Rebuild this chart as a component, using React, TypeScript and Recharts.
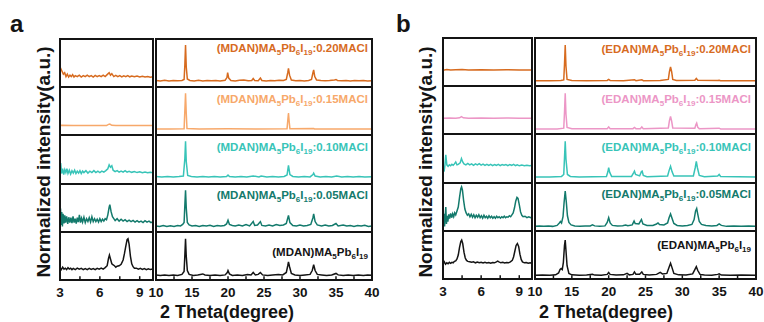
import { Line, LineChart, XAxis, YAxis } from 'recharts';

type Pt = [number, number];

// ---- panel a, (MDAN) series ----
const aLo020: Pt[] = [[3,0.3],[3.05,0.39],[3.15,0.33],[3.25,0.27],[3.35,0.3],[3.45,0.22],[3.55,0.27],[3.65,0.21],[3.75,0.25],[3.85,0.22],[3.95,0.26],[4.05,0.21],[4.15,0.24],[4.3,0.22],[4.45,0.25],[4.6,0.21],[4.75,0.24],[4.9,0.22],[5.05,0.25],[5.2,0.22],[5.35,0.24],[5.5,0.21],[5.65,0.245],[5.8,0.22],[5.95,0.24],[6.1,0.22],[6.25,0.25],[6.4,0.22],[6.55,0.26],[6.7,0.3],[6.8,0.25],[6.9,0.28],[7.05,0.22],[7.2,0.245],[7.35,0.22],[7.5,0.24],[7.65,0.215],[7.8,0.235],[7.95,0.22],[8.1,0.24],[8.25,0.215],[8.4,0.23],[8.6,0.215],[8.8,0.23],[9,0.21],[9.2,0.225],[9.4,0.21],[9.6,0.22],[9.8,0.205],[10,0.215]];
const aLo015: Pt[] = [[3,0.2],[3.1,0.205],[4,0.2],[5,0.2],[6,0.2],[6.5,0.2],[6.65,0.225],[6.75,0.23],[6.9,0.205],[7.2,0.2],[8,0.2],[9,0.2],[10,0.2]];
const aLo010: Pt[] = [[3,0.28],[3.05,0.42],[3.12,0.2],[3.2,0.3],[3.28,0.18],[3.36,0.28],[3.44,0.22],[3.52,0.3],[3.6,0.2],[3.7,0.27],[3.8,0.19],[3.9,0.26],[4,0.21],[4.1,0.27],[4.2,0.2],[4.3,0.25],[4.4,0.21],[4.5,0.26],[4.6,0.2],[4.7,0.25],[4.8,0.22],[4.95,0.26],[5.1,0.21],[5.25,0.25],[5.4,0.22],[5.55,0.26],[5.7,0.22],[5.85,0.25],[6,0.22],[6.15,0.25],[6.3,0.23],[6.45,0.26],[6.6,0.3],[6.7,0.38],[6.8,0.33],[6.9,0.36],[7,0.27],[7.15,0.24],[7.3,0.26],[7.45,0.23],[7.6,0.25],[7.75,0.23],[7.9,0.26],[8.05,0.23],[8.2,0.245],[8.4,0.225],[8.6,0.24],[8.8,0.22],[9,0.235],[9.2,0.215],[9.4,0.23],[9.6,0.215],[9.8,0.225],[10,0.215]];
const aLo005: Pt[] = [[3,0.3],[3.04,0.49],[3.08,0.15],[3.13,0.42],[3.18,0.12],[3.23,0.38],[3.3,0.18],[3.36,0.35],[3.42,0.2],[3.5,0.33],[3.58,0.17],[3.66,0.31],[3.74,0.2],[3.82,0.3],[3.9,0.19],[3.98,0.33],[4.06,0.2],[4.14,0.28],[4.22,0.18],[4.3,0.3],[4.38,0.21],[4.46,0.36],[4.54,0.2],[4.62,0.29],[4.7,0.21],[4.8,0.31],[4.9,0.2],[5,0.28],[5.1,0.22],[5.2,0.3],[5.3,0.21],[5.4,0.32],[5.5,0.22],[5.6,0.28],[5.7,0.22],[5.8,0.27],[5.9,0.21],[6,0.28],[6.1,0.22],[6.2,0.27],[6.3,0.23],[6.4,0.28],[6.5,0.26],[6.6,0.36],[6.7,0.52],[6.75,0.57],[6.85,0.42],[6.95,0.32],[7.05,0.28],[7.15,0.24],[7.3,0.28],[7.45,0.23],[7.6,0.27],[7.75,0.23],[7.9,0.26],[8.05,0.22],[8.2,0.25],[8.35,0.22],[8.5,0.245],[8.65,0.21],[8.8,0.24],[8.95,0.21],[9.1,0.23],[9.25,0.2],[9.4,0.24],[9.55,0.21],[9.7,0.23],[9.85,0.2],[10,0.22]];
const aLoRef: Pt[] = [[3,0.26],[3.1,0.22],[3.2,0.27],[3.3,0.23],[3.4,0.25],[3.5,0.22],[3.6,0.26],[3.7,0.23],[3.8,0.25],[3.9,0.22],[4,0.245],[4.15,0.22],[4.3,0.25],[4.45,0.23],[4.6,0.245],[4.75,0.22],[4.9,0.24],[5.05,0.22],[5.2,0.245],[5.35,0.225],[5.5,0.24],[5.65,0.22],[5.8,0.245],[5.95,0.23],[6.1,0.25],[6.25,0.23],[6.4,0.26],[6.55,0.3],[6.65,0.45],[6.72,0.52],[6.8,0.44],[6.9,0.34],[7,0.32],[7.1,0.3],[7.2,0.27],[7.3,0.29],[7.45,0.3],[7.6,0.33],[7.75,0.42],[7.85,0.55],[7.95,0.7],[8.05,0.84],[8.12,0.86],[8.2,0.75],[8.3,0.5],[8.4,0.34],[8.5,0.28],[8.6,0.25],[8.75,0.25],[8.9,0.23],[9.05,0.245],[9.2,0.225],[9.35,0.24],[9.5,0.22],[9.65,0.235],[9.8,0.22],[10,0.23]];

const aHi020: Pt[] = [[10,0.14],[10.6,0.13],[11.2,0.145],[11.8,0.13],[12.4,0.14],[13,0.135],[13.6,0.14],[13.9,0.16],[14,0.45],[14.1,0.875],[14.2,0.42],[14.35,0.17],[14.7,0.14],[15.3,0.13],[15.9,0.145],[16.5,0.13],[17.1,0.14],[17.7,0.135],[18.3,0.14],[18.9,0.13],[19.6,0.145],[19.85,0.2],[19.95,0.3],[20.1,0.19],[20.4,0.14],[21,0.13],[21.6,0.145],[22.2,0.15],[22.8,0.135],[23.3,0.14],[23.5,0.18],[23.7,0.14],[24.2,0.135],[24.5,0.19],[24.7,0.14],[25.3,0.13],[25.9,0.14],[26.5,0.135],[27.1,0.145],[27.7,0.14],[28.1,0.16],[28.3,0.3],[28.4,0.39],[28.55,0.25],[28.8,0.15],[29.4,0.135],[30,0.14],[30.6,0.13],[31.2,0.14],[31.6,0.16],[31.8,0.3],[31.9,0.36],[32.05,0.22],[32.3,0.15],[32.9,0.14],[33.5,0.135],[34.1,0.14],[34.8,0.15],[35,0.16],[35.2,0.14],[35.8,0.135],[36.4,0.14],[37,0.13],[37.6,0.14],[38.2,0.135],[38.8,0.14],[39.4,0.13],[40,0.135]];
const aHi015: Pt[] = [[10,0.13],[12,0.13],[13.9,0.135],[14,0.5],[14.1,0.87],[14.2,0.45],[14.3,0.14],[16,0.13],[20,0.135],[24,0.13],[28.2,0.135],[28.3,0.3],[28.4,0.46],[28.5,0.28],[28.6,0.135],[31.9,0.14],[32,0.13],[40,0.13]];
const aHi010: Pt[] = [[10,0.14],[10.8,0.13],[11.6,0.14],[12.4,0.13],[13.2,0.14],[13.8,0.15],[14,0.5],[14.1,0.87],[14.2,0.45],[14.4,0.16],[14.9,0.14],[15.7,0.13],[16.5,0.14],[17.3,0.13],[18.1,0.14],[18.9,0.13],[19.8,0.14],[20,0.17],[20.2,0.14],[21,0.13],[21.8,0.14],[22.6,0.13],[23.5,0.15],[24.3,0.13],[24.6,0.15],[25.4,0.13],[26.2,0.14],[27,0.13],[27.8,0.14],[28.2,0.17],[28.4,0.37],[28.6,0.18],[29,0.14],[29.8,0.13],[30.6,0.14],[31.4,0.13],[31.8,0.18],[31.9,0.21],[32.1,0.15],[32.8,0.13],[33.6,0.14],[34.4,0.13],[35.1,0.15],[35.8,0.13],[36.6,0.14],[37.4,0.13],[38.2,0.14],[39,0.13],[40,0.135]];
const aHi005: Pt[] = [[10,0.13],[10.5,0.12],[11,0.14],[11.5,0.12],[12,0.135],[12.5,0.12],[13,0.14],[13.4,0.13],[13.7,0.16],[13.9,0.2],[14,0.55],[14.1,0.87],[14.2,0.5],[14.35,0.2],[14.6,0.15],[15,0.13],[15.5,0.14],[16,0.12],[16.5,0.14],[17,0.13],[17.5,0.145],[18,0.12],[18.5,0.14],[19,0.13],[19.5,0.14],[19.8,0.17],[20,0.25],[20.2,0.16],[20.6,0.14],[21,0.13],[21.5,0.15],[22,0.13],[22.5,0.16],[23,0.13],[23.5,0.22],[23.7,0.14],[24.1,0.15],[24.5,0.22],[24.7,0.14],[25.2,0.13],[25.7,0.15],[26.2,0.13],[26.7,0.16],[27.2,0.14],[27.7,0.15],[28.1,0.18],[28.4,0.35],[28.6,0.2],[29,0.14],[29.5,0.13],[30,0.15],[30.5,0.13],[31,0.14],[31.5,0.16],[31.8,0.3],[31.9,0.38],[32.1,0.22],[32.4,0.15],[33,0.13],[33.5,0.15],[34,0.13],[34.5,0.14],[35,0.18],[35.3,0.13],[36,0.15],[36.5,0.13],[37,0.14],[37.5,0.12],[38,0.14],[38.5,0.13],[39,0.145],[39.5,0.12],[40,0.13]];
const aHiRef: Pt[] = [[10,0.11],[10.6,0.1],[11.2,0.11],[11.8,0.1],[12.4,0.11],[13,0.1],[13.6,0.12],[13.9,0.18],[14,0.5],[14.1,0.86],[14.2,0.5],[14.35,0.2],[14.6,0.12],[15.2,0.1],[15.8,0.11],[16.5,0.13],[16.8,0.11],[17.5,0.1],[18.2,0.11],[18.9,0.1],[19.6,0.11],[19.9,0.16],[20,0.2],[20.2,0.13],[20.6,0.1],[21.3,0.11],[22,0.1],[22.7,0.12],[23.2,0.11],[23.5,0.16],[23.8,0.11],[24.2,0.12],[24.5,0.16],[24.8,0.11],[25.5,0.1],[26.2,0.11],[27,0.12],[27.6,0.11],[28.1,0.16],[28.3,0.3],[28.4,0.38],[28.55,0.28],[28.8,0.14],[29.3,0.11],[30,0.1],[30.7,0.11],[31.4,0.12],[31.7,0.2],[31.9,0.32],[32.1,0.2],[32.4,0.12],[33,0.11],[33.7,0.1],[34.4,0.11],[35,0.14],[35.3,0.11],[36,0.1],[36.7,0.11],[37.4,0.1],[38.1,0.11],[38.8,0.1],[39.4,0.11],[40,0.1]];

// ---- panel b, (EDAN) series ----
const bLo020: Pt[] = [[3,0.33],[3.3,0.345],[3.6,0.335],[4,0.34],[4.5,0.345],[5,0.335],[6,0.34],[7,0.335],[8,0.34],[9,0.335],[10,0.335]];
const bLo015: Pt[] = [[3,0.33],[3.5,0.335],[4,0.33],[4.3,0.34],[4.45,0.365],[4.6,0.34],[5,0.33],[6,0.335],[7,0.33],[8,0.335],[9,0.33],[10,0.33]];
const bLo010: Pt[] = [[3,0.28],[3.08,0.22],[3.15,0.35],[3.22,0.57],[3.3,0.36],[3.4,0.33],[3.5,0.36],[3.6,0.34],[3.7,0.37],[3.8,0.35],[3.9,0.38],[4,0.42],[4.1,0.36],[4.2,0.37],[4.35,0.4],[4.45,0.49],[4.55,0.42],[4.65,0.38],[4.8,0.36],[4.95,0.39],[5.1,0.36],[5.25,0.38],[5.4,0.35],[5.55,0.38],[5.7,0.36],[5.85,0.385],[6,0.355],[6.15,0.375],[6.3,0.35],[6.45,0.37],[6.6,0.35],[6.75,0.37],[6.9,0.345],[7.05,0.365],[7.2,0.35],[7.35,0.37],[7.5,0.345],[7.65,0.365],[7.8,0.35],[7.95,0.365],[8.1,0.345],[8.25,0.365],[8.4,0.35],[8.55,0.37],[8.7,0.345],[8.85,0.36],[9,0.34],[9.2,0.355],[9.4,0.34],[9.6,0.35],[9.8,0.34],[10,0.345]];
const bLo005: Pt[] = [[3,0.42],[3.04,0.2],[3.08,0.36],[3.12,0.1],[3.17,0.3],[3.22,0.5],[3.27,0.15],[3.32,0.32],[3.38,0.2],[3.45,0.35],[3.52,0.26],[3.6,0.37],[3.68,0.28],[3.76,0.36],[3.84,0.3],[3.92,0.38],[4,0.34],[4.1,0.42],[4.2,0.5],[4.3,0.7],[4.4,0.88],[4.46,0.92],[4.53,0.85],[4.62,0.64],[4.72,0.46],[4.82,0.38],[4.92,0.33],[5.02,0.36],[5.12,0.3],[5.22,0.35],[5.32,0.29],[5.42,0.34],[5.52,0.28],[5.62,0.33],[5.72,0.29],[5.82,0.34],[5.92,0.28],[6.02,0.32],[6.12,0.27],[6.22,0.33],[6.32,0.28],[6.42,0.31],[6.52,0.27],[6.62,0.32],[6.72,0.28],[6.82,0.31],[6.92,0.27],[7.02,0.3],[7.12,0.27],[7.22,0.31],[7.32,0.28],[7.42,0.3],[7.52,0.27],[7.62,0.3],[7.72,0.28],[7.82,0.31],[7.92,0.28],[8.02,0.3],[8.12,0.29],[8.22,0.32],[8.32,0.3],[8.42,0.34],[8.52,0.38],[8.62,0.48],[8.72,0.62],[8.82,0.7],[8.9,0.68],[9,0.55],[9.1,0.4],[9.2,0.33],[9.3,0.3],[9.45,0.31],[9.6,0.28],[9.75,0.3],[9.9,0.28],[10,0.29]];
const bLoRef: Pt[] = [[3,0.32],[3.1,0.36],[3.2,0.31],[3.3,0.34],[3.4,0.32],[3.5,0.35],[3.6,0.33],[3.7,0.35],[3.8,0.34],[3.9,0.37],[4,0.38],[4.1,0.42],[4.2,0.5],[4.3,0.66],[4.4,0.78],[4.47,0.81],[4.55,0.74],[4.65,0.56],[4.75,0.44],[4.85,0.39],[4.95,0.37],[5.1,0.36],[5.25,0.35],[5.4,0.36],[5.55,0.34],[5.7,0.355],[5.85,0.34],[6,0.35],[6.15,0.335],[6.3,0.35],[6.45,0.335],[6.6,0.345],[6.75,0.33],[6.9,0.345],[7.05,0.34],[7.2,0.36],[7.3,0.375],[7.4,0.36],[7.55,0.34],[7.7,0.35],[7.85,0.335],[8,0.345],[8.15,0.34],[8.3,0.36],[8.45,0.39],[8.55,0.46],[8.65,0.58],[8.75,0.7],[8.85,0.74],[8.95,0.68],[9.05,0.52],[9.15,0.41],[9.25,0.36],[9.4,0.34],[9.55,0.345],[9.7,0.33],[9.85,0.34],[10,0.33]];

const bHi020: Pt[] = [[10,0.115],[12,0.115],[13.5,0.12],[13.9,0.13],[14,0.45],[14.1,0.855],[14.2,0.42],[14.35,0.14],[15,0.12],[17,0.115],[19.8,0.12],[20,0.14],[20.2,0.12],[22,0.115],[23.5,0.135],[23.7,0.115],[24.5,0.135],[24.7,0.115],[27,0.12],[28.1,0.14],[28.25,0.3],[28.4,0.4],[28.55,0.3],[28.7,0.14],[29.2,0.12],[31.7,0.125],[31.9,0.16],[32.1,0.125],[34.8,0.12],[35,0.125],[35.2,0.115],[40,0.115]];
const bHi015: Pt[] = [[10,0.11],[13,0.11],[13.9,0.125],[14,0.45],[14.1,0.85],[14.2,0.42],[14.35,0.14],[15,0.115],[19.8,0.115],[20,0.15],[20.2,0.115],[23.3,0.115],[23.5,0.14],[23.7,0.115],[24.3,0.115],[24.5,0.15],[24.7,0.115],[28.1,0.13],[28.25,0.28],[28.4,0.37],[28.55,0.27],[28.7,0.13],[31.7,0.125],[31.85,0.2],[31.95,0.23],[32.1,0.14],[32.3,0.115],[35,0.125],[35.2,0.11],[40,0.11]];
const bHi010: Pt[] = [[10,0.11],[12,0.11],[13.6,0.12],[13.9,0.16],[14,0.5],[14.1,0.85],[14.2,0.48],[14.4,0.16],[14.8,0.12],[16,0.11],[19.7,0.12],[19.9,0.22],[20,0.3],[20.15,0.2],[20.4,0.12],[23.1,0.12],[23.4,0.2],[23.5,0.23],[23.65,0.16],[24.2,0.13],[24.45,0.22],[24.55,0.23],[24.7,0.14],[25.2,0.115],[28,0.13],[28.2,0.24],[28.4,0.33],[28.6,0.22],[28.85,0.13],[31.5,0.13],[31.75,0.3],[31.9,0.43],[32.05,0.3],[32.3,0.14],[33,0.115],[34.8,0.13],[35,0.16],[35.2,0.12],[40,0.11]];
const bHi005: Pt[] = [[10,0.1],[10.6,0.11],[11.2,0.1],[11.8,0.11],[12.4,0.1],[13,0.12],[13.3,0.17],[13.45,0.2],[13.6,0.17],[13.8,0.3],[13.95,0.6],[14.1,0.83],[14.25,0.6],[14.4,0.32],[14.6,0.18],[14.9,0.13],[15.4,0.11],[16.1,0.1],[16.8,0.11],[17.5,0.11],[17.8,0.13],[18.1,0.11],[18.8,0.1],[19.5,0.11],[19.8,0.18],[20,0.28],[20.2,0.17],[20.5,0.12],[21.2,0.11],[21.9,0.115],[22.3,0.13],[22.6,0.115],[23.2,0.13],[23.45,0.21],[23.6,0.16],[24.1,0.15],[24.45,0.24],[24.65,0.15],[25.2,0.12],[26,0.12],[26.5,0.15],[26.7,0.17],[26.9,0.14],[27.5,0.13],[28,0.17],[28.2,0.28],[28.4,0.36],[28.6,0.27],[28.85,0.16],[29.3,0.12],[30,0.11],[30.7,0.12],[31.3,0.14],[31.6,0.24],[31.8,0.42],[31.95,0.47],[32.1,0.35],[32.3,0.2],[32.6,0.14],[33.2,0.12],[34,0.11],[34.7,0.12],[35,0.15],[35.3,0.12],[36,0.1],[37,0.11],[38,0.1],[39,0.11],[40,0.1]];
const bHiRef: Pt[] = [[10,0.08],[11,0.085],[12,0.08],[12.8,0.09],[13.2,0.13],[13.4,0.2],[13.55,0.22],[13.7,0.2],[13.85,0.35],[14,0.7],[14.1,0.81],[14.2,0.6],[14.35,0.28],[14.6,0.12],[15,0.09],[16,0.08],[17,0.085],[17.8,0.1],[18.1,0.085],[19,0.08],[19.8,0.1],[20,0.14],[20.2,0.1],[21,0.085],[22,0.09],[22.5,0.12],[22.8,0.09],[23.3,0.1],[23.5,0.15],[23.7,0.1],[24.2,0.1],[24.5,0.15],[24.7,0.1],[25.5,0.085],[26.5,0.1],[27,0.14],[27.3,0.11],[27.9,0.12],[28.2,0.25],[28.4,0.33],[28.6,0.24],[28.85,0.12],[29.5,0.09],[30.5,0.085],[31.4,0.11],[31.7,0.2],[31.9,0.26],[32.1,0.18],[32.4,0.1],[33,0.085],[34,0.08],[34.8,0.1],[35,0.11],[35.3,0.085],[36.5,0.08],[38,0.085],[40,0.08]];

const lowTicks = [3, 4.5, 6, 7.5, 9];
const highTicks = [10, 12.5, 15, 17.5, 20, 22.5, 25, 27.5, 30, 32.5, 35, 37.5, 40];
const lowDomain: [number, number] = [3, 10];
const highDomain: [number, number] = [10, 40];

const ratioLabels = [':0.20MACl', ':0.15MACl', ':0.10MACl', ':0.05MACl', ''];
const aColors = ['#d76b1f', '#f7a86a', '#38c4b8', '#137a6c', '#141414'];
const bColors = ['#d76b1f', '#ec96c6', '#38c4b8', '#137a6c', '#141414'];

const FONT = '"Liberation Sans", Arial, sans-serif';
const INK = '#141414';
const PAD = 14;
const AXIS_H = 32;

const panels = [
  {
    letter: 'a', letterX: 10, prefix: '(MDAN)', colors: aColors,
    low: [aLo020, aLo015, aLo010, aLo005, aLoRef],
    high: [aHi020, aHi015, aHi010, aHi005, aHiRef],
    lowX: 60, lowW: 93, highX: 156, highW: 216, top: 39, bottom: 280,
    yLabelX: 44, titleX: 227, labelPad: 4, labelOffsets: [2.3, 4.3, 4.6, 4.7, 13],
  },
  {
    letter: 'b', letterX: 396, prefix: '(EDAN)', colors: bColors,
    low: [bLo020, bLo015, bLo010, bLo005, bLoRef],
    high: [bHi020, bHi015, bHi010, bHi005, bHiRef],
    lowX: 443, lowW: 89, highX: 535, highW: 221, top: 38, bottom: 279,
    yLabelX: 426, titleX: 606, labelPad: 5, labelOffsets: [4.3, 5.3, 6, 4, 7.5],
  },
];

function Trace({ points, domain, ticks, left, top, width, height, color, withAxis, major }: any) {
  const data = points.map(([t, v]: Pt) => ({ t, v }));
  return (
    <div style={{ position: 'absolute', left: left - PAD, top }}>
      <LineChart
        width={width + 2 * PAD}
        height={height + (withAxis ? AXIS_H : 0)}
        data={data}
        margin={{ top: 0, right: PAD, bottom: 0, left: PAD }}
      >
        <XAxis
          dataKey="t"
          type="number"
          domain={domain}
          ticks={ticks}
          interval={0}
          allowDataOverflow
          hide={!withAxis}
          height={AXIS_H}
          axisLine={false}
          tickSize={-4}
          tickMargin={11}
          tickLine={{ stroke: INK, strokeWidth: 1.5 }}
          tick={{ fontSize: 13.5, fontWeight: 700, fill: INK, fontFamily: FONT }}
          tickFormatter={(v: number) => (v % major === 0 ? String(v) : '')}
        />
        <YAxis type="number" domain={[0, 1]} hide />
        <Line type="linear" dataKey="v" stroke={color} strokeWidth={1.5} dot={false} isAnimationActive={false} />
      </LineChart>
    </div>
  );
}

const subStyle = { fontSize: 8, verticalAlign: -3 };

function Frame({ x, w, top, bottom }: any) {
  const rowH = (bottom - top) / 5;
  return (
    <>
      <div style={{ position: 'absolute', left: x - 1, top: top - 1, width: w + 2, height: bottom - top + 2, border: `2px solid ${INK}`, boxSizing: 'border-box' }} />
      {[1, 2, 3, 4].map((i) => (
        <div key={i} style={{ position: 'absolute', left: x, top: top + i * rowH - 1, width: w, height: 2, background: INK }} />
      ))}
    </>
  );
}

function Panel({ p }: any) {
  const rowH = (p.bottom - p.top) / 5;
  return (
    <>
      {p.low.map((pts: Pt[], i: number) => (
        <Trace key={'l' + i} points={pts} domain={lowDomain} ticks={lowTicks} major={3}
          left={p.lowX} top={p.top + i * rowH} width={p.lowW} height={rowH} color={p.colors[i]} withAxis={i === 4} />
      ))}
      {p.high.map((pts: Pt[], i: number) => (
        <Trace key={'h' + i} points={pts} domain={highDomain} ticks={highTicks} major={5}
          left={p.highX} top={p.top + i * rowH} width={p.highW} height={rowH} color={p.colors[i]} withAxis={i === 4} />
      ))}
      <Frame x={p.lowX} w={p.lowW} top={p.top} bottom={p.bottom} />
      <Frame x={p.highX} w={p.highW} top={p.top} bottom={p.bottom} />
      {ratioLabels.map((r, i) => (
        <div key={'t' + i} style={{
          position: 'absolute', left: p.highX + p.highW - p.labelPad - 220, width: 220,
          top: p.top + i * rowH + p.labelOffsets[i], textAlign: 'right', color: p.colors[i],
          fontSize: 11.5, fontWeight: 700, lineHeight: '14px', whiteSpace: 'nowrap',
        }}>
          {p.prefix}MA<span style={subStyle}>5</span>Pb<span style={subStyle}>6</span>I<span style={subStyle}>19</span>{r}
        </div>
      ))}
      <div style={{
        position: 'absolute', left: p.yLabelX, top: 162, transform: 'translate(-50%, -50%) rotate(-90deg)',
        fontSize: 19, fontWeight: 700, whiteSpace: 'nowrap', color: INK, lineHeight: '22px',
      }}>
        Normalized intensity(a.u.)
      </div>
      <div style={{
        position: 'absolute', left: p.titleX, top: 312, transform: 'translate(-50%, -50%)',
        fontSize: 18, fontWeight: 700, whiteSpace: 'nowrap', color: INK, lineHeight: '20px',
      }}>
        2 Theta(degree)
      </div>
      <div style={{ position: 'absolute', left: p.letterX, top: 12, fontSize: 24, fontWeight: 700, lineHeight: '24px', color: INK }}>
        {p.letter}
      </div>
    </>
  );
}

export default function App() {
  return (
    <div style={{ position: 'absolute', left: 0, top: 0, width: 764, height: 322, background: '#fff', fontFamily: FONT, overflow: 'hidden' }}>
      {panels.map((p) => (
        <Panel key={p.letter} p={p} />
      ))}
    </div>
  );
}
